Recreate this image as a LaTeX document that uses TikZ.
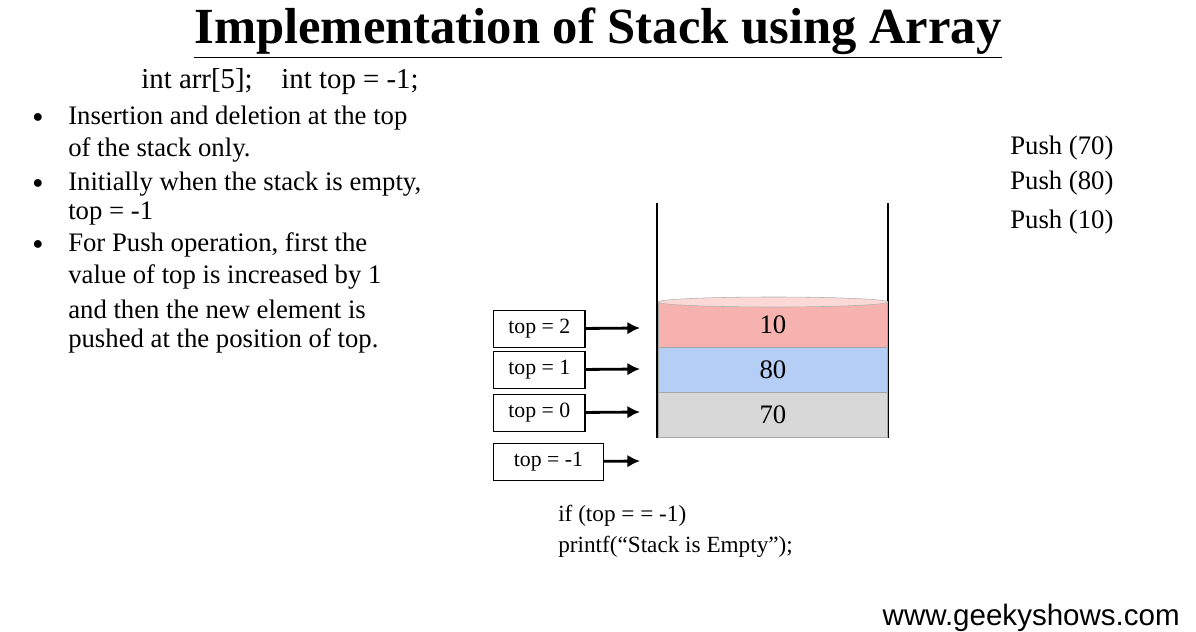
\documentclass[tikz,border=0pt]{standalone}
\usepackage{fontspec}
\setmainfont{Liberation Serif}
\newfontfamily\urlfont{Liberation Sans}
\usepackage{tikz}
\usetikzlibrary{arrows.meta}
\definecolor{diskred}{RGB}{246,178,174}
\definecolor{diskblue}{RGB}{180,206,246}
\definecolor{diskgray}{RGB}{216,216,216}
\tikzset{
  txt/.style={anchor=west, inner sep=0pt, font=\fontsize{19}{21}\selectfont},
  topbox/.style={draw, thick, minimum height=26pt, inner sep=2pt, font=\fontsize{15.5}{17}\selectfont},
  disk/.style={draw=gray!70, minimum width=163pt, minimum height=32pt, inner sep=0pt, font=\fontsize{19}{21}\selectfont},
  ptr/.style={line width=2pt, -{Latex[length=9pt,width=9pt]}}
}
\begin{document}
\begin{tikzpicture}[x=0.025cm, y=-0.025cm]
        \path [fill=white]  (0,0) rectangle (1196,628);

        \node [font=\bfseries\fontsize{36}{40}\selectfont, inner sep=0pt] (title) at (598,33) {\underline{Implementation of Stack using Array}};
        \node [font=\fontsize{20.5}{22}\selectfont, inner sep=0pt] (decl) at (280,82) {int arr[5];\quad int top = -1;};

        \foreach \y in {118,184,245}
          \node [inner sep=0pt, font=\fontsize{15}{17}\selectfont] at (38,\y) {$\bullet$};
        \node [txt] (l1) at (68,118) {Insertion and deletion at the top};
        \node [txt] (l2) at (68,150) {of the stack only.};
        \node [txt] (l3) at (68,184) {Initially when the stack is empty,};
        \node [txt] (l4) at (68,214) {top = -1};
        \node [txt] (l5) at (68,245) {For Push operation, first the};
        \node [txt] (l6) at (68,277) {value of top is increased by 1};
        \node [txt] (l7) at (68,309) {and then the new element is};
        \node [txt] (l8) at (68,341) {pushed at the position of top.};

        \node [txt] (p1) at (1010,148) {Push (70)};
        \node [txt] (p2) at (1010,183) {Push (80)};
        \node [txt] (p3) at (1010,222) {Push (10)};

        % stack walls
        \draw [thick]  (657,203) -- (657,437) -- (888,437) -- (888,203);

        \node [disk, fill=diskgray, anchor=north west] (d70) at (658,392) {70};
        \node [disk, fill=diskblue, anchor=north west] (d80) at (658,347) {80};
        \node [disk, fill=diskred, anchor=north west] (d10) at (658,302) {10};
        \draw [gray!60, fill=diskred!50] (773,302) ellipse (115 and 5);

        % pointers
        \node [topbox, anchor=north west, minimum width=65pt] (t2) at (493,310) {top = 2};
        \node [topbox, anchor=north west, minimum width=65pt] (t1) at (493,351) {top = 1};
        \node [topbox, anchor=north west, minimum width=65pt] (t0) at (493,394) {top = 0};
        \node [topbox, anchor=north west, minimum width=78pt] (tm) at (493,443) {top = -1};
        \coordinate (e2) at (640,328);
        \coordinate (e1) at (640,369);
        \coordinate (e0) at (640,412);
        \coordinate (em) at (640,461);
        \draw [ptr] (t2) -- (e2);
        \draw [ptr] (t1) -- (e1);
        \draw [ptr] (t0) -- (e0);
        \draw [ptr] (tm) -- (em);

        \node [txt, font=\fontsize{16.5}{18}\selectfont] (c1) at (558,516) {if (top = = -1)};
        \node [txt, font=\fontsize{16.5}{18}\selectfont] (c2) at (558,547) {printf(“Stack is Empty”);};

        \node [anchor=east, inner sep=0pt, font=\urlfont\fontsize{21}{23}\selectfont] (url) at (1180,618) {www.geekyshows.com};
\end{tikzpicture}
\end{document}
